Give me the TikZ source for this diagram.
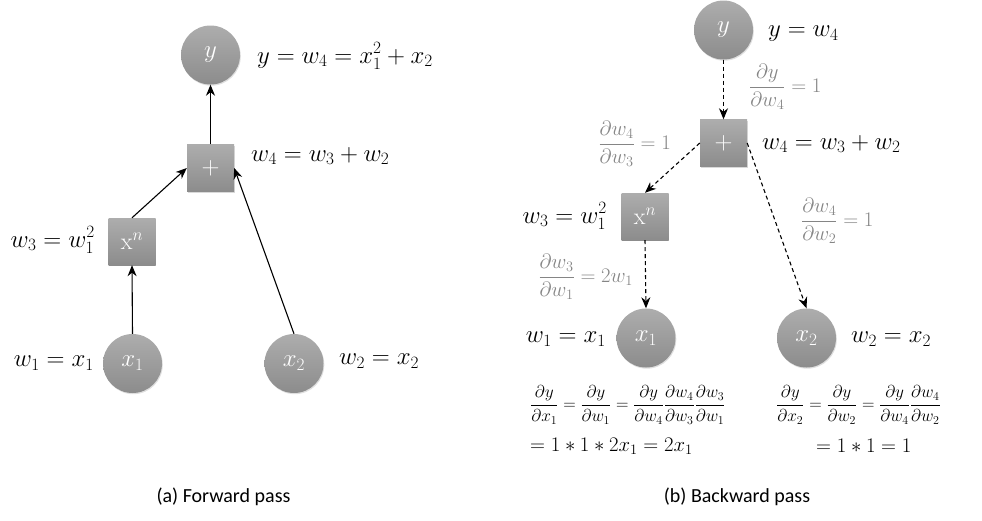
\documentclass[tikz,border=0pt]{standalone}
\usepackage{amsmath}
\usepackage{fontspec}
\newfontfamily\capfont{Carlito}
\usetikzlibrary{arrows.meta,shadows}
\definecolor{nodetop}{HTML}{ADADAD}
\definecolor{nodebot}{HTML}{8C8C8C}
\definecolor{graytxt}{HTML}{858585}
\tikzset{
  varnode/.style={circle,minimum size=59pt,inner sep=0pt,top color=nodetop,bottom color=nodebot,
    draw=none,text=white,font=\fontsize{25}{29}\selectfont,
    drop shadow={opacity=0.25,shadow xshift=0.8pt,shadow yshift=-1.2pt}},
  opnode/.style={rectangle,minimum size=47pt,inner sep=0pt,top color=nodetop,bottom color=nodebot,
    draw=none,text=white,font=\fontsize{24}{28}\selectfont,
    drop shadow={opacity=0.3,shadow xshift=0.8pt,shadow yshift=-1.2pt}},
  lbl/.style={inner sep=1pt,font=\fontsize{23}{27}\selectfont},
  glbl/.style={inner sep=1pt,text=graytxt,font=\fontsize{22}{26}\selectfont},
  eqlbl/.style={inner sep=1pt,font=\fontsize{17.6}{21}\selectfont},
  eqlblb/.style={inner sep=1pt,font=\fontsize{19.5}{23}\selectfont},
  captext/.style={inner sep=1pt,font=\capfont\fontsize{20}{24}\selectfont},
  fwd/.style={draw=black,line width=1.1pt,-{Stealth[length=11pt,width=9pt,inset=3.5pt]}},
  bwd/.style={draw=black,line width=1.1pt,dash pattern=on 4pt off 3pt,-{Stealth[length=11pt,width=9pt,inset=3.5pt]}}
}
\begin{document}
\begin{tikzpicture}[x=1pt,y=-1pt]
\useasboundingbox (0,0) rectangle (982,520);
% ---------- (a) forward ----------
\node[varnode] (y)  at (210.5,55) {$y$};
\node[opnode]  (plus) at (210.5,168) {$+$};
\node[opnode]  (xn) at (132,241.5) {$\mathrm{x}^{n}$};
\node[varnode] (x1) at (132.5,363.5) {$x_1$};
\node[varnode] (x2) at (294,363.5) {$x_2$};
\draw[fwd] (x1.north) -- (xn.south);
\draw[fwd] (xn.north) -- (plus.west);
\draw[fwd] (x2.north) -- (plus.east);
\draw[fwd] (plus.north) -- (y.south);
\node[lbl,anchor=west] (ly) at (256,56) {$y = w_4 = x_1^2 + x_2$};
\node[lbl,anchor=west] (lw4) at (250,156) {$w_4 = w_3 + w_2$};
\node[lbl,anchor=east] (lw3) at (96,240) {$w_3 = w_1^2$};
\node[lbl,anchor=east] (lw1) at (95,363) {$w_1 = x_1$};
\node[lbl,anchor=west] (lw2) at (338,361) {$w_2 = x_2$};
\node[captext] (capa) at (223.5,497) {(a) Forward pass};
% ---------- (b) backward ----------
\node[varnode] (by)  at (723.5,30) {$y$};
\node[opnode]  (bplus) at (723.5,143) {$+$};
\node[opnode]  (bxn) at (645,216.5) {$\mathrm{x}^{n}$};
\node[varnode] (bx1) at (646,338) {$x_1$};
\node[varnode] (bx2) at (806.5,338) {$x_2$};
\draw[bwd] (by.south) -- (bplus.north);
\draw[bwd] (bplus.west) -- (bxn.north);
\draw[bwd] (bplus.east) -- (bx2.north);
\draw[bwd] (bxn.south) -- (bx1.north);
\node[lbl,anchor=west] (rly) at (767,34) {$y = w_4$};
\node[lbl,anchor=west] (rlw4) at (761,144) {$w_4 = w_3 + w_2$};
\node[lbl,anchor=east] (rlw3) at (608,216) {$w_3 = w_1^2$};
\node[lbl,anchor=east] (rlw1) at (607,339) {$w_1 = x_1$};
\node[lbl,anchor=west] (rlw2) at (850,339) {$w_2 = x_2$};
\node[glbl,anchor=west] (g1) at (748,87) {$\dfrac{\partial y}{\partial w_4} = 1$};
\node[glbl,anchor=east] (g2) at (672,144) {$\dfrac{\partial w_4}{\partial w_3} = 1$};
\node[glbl,anchor=west] (g3) at (800,221) {$\dfrac{\partial w_4}{\partial w_2} = 1$};
\node[glbl,anchor=east] (g4) at (634,277) {$\dfrac{\partial w_3}{\partial w_1} = 2w_1$};
\node[eqlbl,anchor=west] (eql1) at (529,405) {$\dfrac{\partial y}{\partial x_1} = \dfrac{\partial y}{\partial w_1} = \dfrac{\partial y}{\partial w_4}\dfrac{\partial w_4}{\partial w_3}\dfrac{\partial w_3}{\partial w_1}$};
\node[eqlblb,anchor=west] (eql2) at (529,446) {$= 1 * 1 * 2x_1 = 2x_1$};
\node[eqlbl,anchor=west] (eqr1) at (775,405) {$\dfrac{\partial y}{\partial x_2} = \dfrac{\partial y}{\partial w_2} = \dfrac{\partial y}{\partial w_4}\dfrac{\partial w_4}{\partial w_2}$};
\node[eqlblb,anchor=west] (eqr2) at (815,446) {$= 1 * 1 = 1$};
\node[captext] (capb) at (737,497) {(b) Backward pass};
\end{tikzpicture}
\end{document}
